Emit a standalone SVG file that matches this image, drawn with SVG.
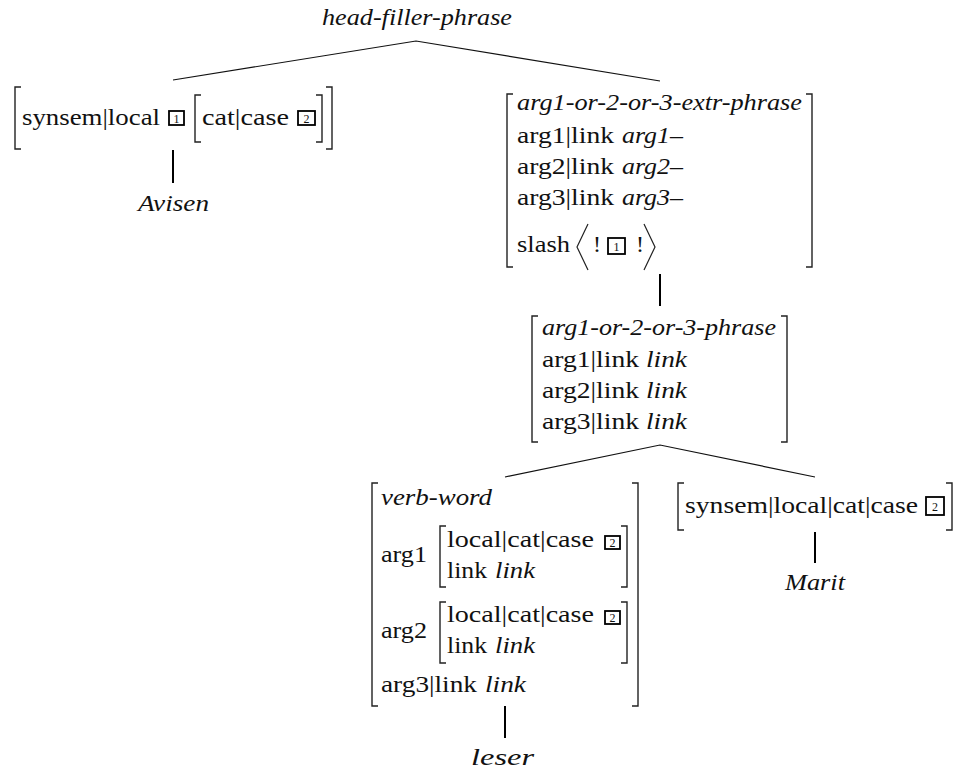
<svg xmlns="http://www.w3.org/2000/svg" width="953" height="773" viewBox="0 0 953 773">
<style>
text{font-family:'Liberation Serif','Times New Roman',serif;font-size:24px;fill:#111}
.it{font-style:italic}
.tag{font-size:12px;text-anchor:middle}
.br{fill:none;stroke:#222;stroke-width:1.4}
.ang{fill:none;stroke:#222;stroke-width:1.2}
.box{fill:#fff;stroke:#000;stroke-width:1.8}
.tree{fill:none;stroke:#111;stroke-width:1.2}
.stem{fill:none;stroke:#000;stroke-width:2}
</style>
<rect width="953" height="773" fill="#fff"/>
<g id="connectors">
<polyline class="tree" points="173,80 416,41 660,81"/>
<polyline class="tree" points="505,477 660,445 815,477"/>
<line class="stem" x1="173" y1="150" x2="173" y2="183"/>
<line class="stem" x1="660" y1="274" x2="660" y2="306"/>
<line class="stem" x1="505" y1="706" x2="505" y2="738"/>
<line class="stem" x1="815" y1="532" x2="815" y2="563"/>
</g>
<g id="root">
<text class="it" x="322" y="25" textLength="190" lengthAdjust="spacingAndGlyphs">head-filler-phrase</text>
</g>
<g id="filler">
<path class="br" d="M21,87 H15 V149 H21"/>
<path class="br" d="M326,87 H332 V149 H326"/>
<text x="22" y="125" textLength="138" lengthAdjust="spacingAndGlyphs">synsem|local</text>
<rect class="box" x="169" y="111" width="15" height="14"/>
<text class="tag" x="176.5" y="122.5">1</text>
<path class="br" d="M201,95 H195 V142 H201"/>
<path class="br" d="M316,95 H322 V142 H316"/>
<text x="202" y="125" textLength="87" lengthAdjust="spacingAndGlyphs">cat|case</text>
<rect class="box" x="298" y="111" width="17" height="14"/>
<text class="tag" x="306.5" y="122.5">2</text>
</g>
<g id="avisen">
<text class="it" x="138" y="211" textLength="71" lengthAdjust="spacingAndGlyphs">Avisen</text>
</g>
<g id="extr-phrase">
<path class="br" d="M513,94 H507 V267 H513"/>
<path class="br" d="M806,94 H812 V267 H806"/>
<text class="it" x="517" y="110" textLength="285" lengthAdjust="spacingAndGlyphs">arg1-or-2-or-3-extr-phrase</text>
<text x="517" y="143" textLength="97" lengthAdjust="spacingAndGlyphs">arg1|link</text>
<text class="it" x="622" y="143" textLength="61" lengthAdjust="spacingAndGlyphs">arg1–</text>
<text x="517" y="174" textLength="97" lengthAdjust="spacingAndGlyphs">arg2|link</text>
<text class="it" x="622" y="174" textLength="61" lengthAdjust="spacingAndGlyphs">arg2–</text>
<text x="517" y="205" textLength="97" lengthAdjust="spacingAndGlyphs">arg3|link</text>
<text class="it" x="622" y="205" textLength="61" lengthAdjust="spacingAndGlyphs">arg3–</text>
<text x="517" y="252" textLength="53" lengthAdjust="spacingAndGlyphs">slash</text>
<polyline class="ang" points="588,224 577,247 588,270"/>
<text x="593" y="252">!</text>
<rect class="box" x="608" y="238" width="17" height="16"/>
<text class="tag" x="616.5" y="250.5">1</text>
<text x="636" y="252">!</text>
<polyline class="ang" points="644,224 655,247 644,270"/>
</g>
<g id="phrase">
<path class="br" d="M538,316 H532 V442 H538"/>
<path class="br" d="M781,316 H787 V442 H781"/>
<text class="it" x="542" y="335" textLength="234" lengthAdjust="spacingAndGlyphs">arg1-or-2-or-3-phrase</text>
<text x="542" y="367" textLength="97" lengthAdjust="spacingAndGlyphs">arg1|link</text>
<text class="it" x="646" y="367" textLength="41" lengthAdjust="spacingAndGlyphs">link</text>
<text x="542" y="398" textLength="97" lengthAdjust="spacingAndGlyphs">arg2|link</text>
<text class="it" x="646" y="398" textLength="41" lengthAdjust="spacingAndGlyphs">link</text>
<text x="542" y="429" textLength="97" lengthAdjust="spacingAndGlyphs">arg3|link</text>
<text class="it" x="646" y="429" textLength="41" lengthAdjust="spacingAndGlyphs">link</text>
</g>
<g id="verb-word">
<path class="br" d="M378,483 H372 V706 H378"/>
<path class="br" d="M632,483 H638 V706 H632"/>
<text class="it" x="381" y="505" textLength="111" lengthAdjust="spacingAndGlyphs">verb-word</text>
<text x="381" y="562" textLength="46" lengthAdjust="spacingAndGlyphs">arg1</text>
<path class="br" d="M446,526 H440 V587 H446"/>
<path class="br" d="M621,526 H627 V587 H621"/>
<text x="447" y="547" textLength="147" lengthAdjust="spacingAndGlyphs">local|cat|case</text>
<rect class="box" x="605" y="536" width="15" height="13"/>
<text class="tag" x="612.5" y="547">2</text>
<text x="447" y="578" textLength="40" lengthAdjust="spacingAndGlyphs">link</text>
<text class="it" x="495" y="578" textLength="40" lengthAdjust="spacingAndGlyphs">link</text>
<text x="381" y="638" textLength="46" lengthAdjust="spacingAndGlyphs">arg2</text>
<path class="br" d="M446,602 H440 V663 H446"/>
<path class="br" d="M621,602 H627 V663 H621"/>
<text x="447" y="622" textLength="147" lengthAdjust="spacingAndGlyphs">local|cat|case</text>
<rect class="box" x="605" y="611" width="15" height="13"/>
<text class="tag" x="612.5" y="622">2</text>
<text x="447" y="653" textLength="40" lengthAdjust="spacingAndGlyphs">link</text>
<text class="it" x="495" y="653" textLength="40" lengthAdjust="spacingAndGlyphs">link</text>
<text x="381" y="692" textLength="96" lengthAdjust="spacingAndGlyphs">arg3|link</text>
<text class="it" x="485" y="692" textLength="41" lengthAdjust="spacingAndGlyphs">link</text>
</g>
<g id="leser">
<text class="it" x="471" y="765" textLength="63" lengthAdjust="spacingAndGlyphs">leser</text>
</g>
<g id="marit-node">
<path class="br" d="M684,483 H678 V530 H684"/>
<path class="br" d="M946,483 H952 V530 H946"/>
<text x="685" y="513" textLength="233" lengthAdjust="spacingAndGlyphs">synsem|local|cat|case</text>
<rect class="box" x="926" y="497" width="18" height="18"/>
<text class="tag" x="935" y="510.5">2</text>
</g>
<g id="marit">
<text class="it" x="785" y="590" textLength="60" lengthAdjust="spacingAndGlyphs">Marit</text>
</g>
</svg>
